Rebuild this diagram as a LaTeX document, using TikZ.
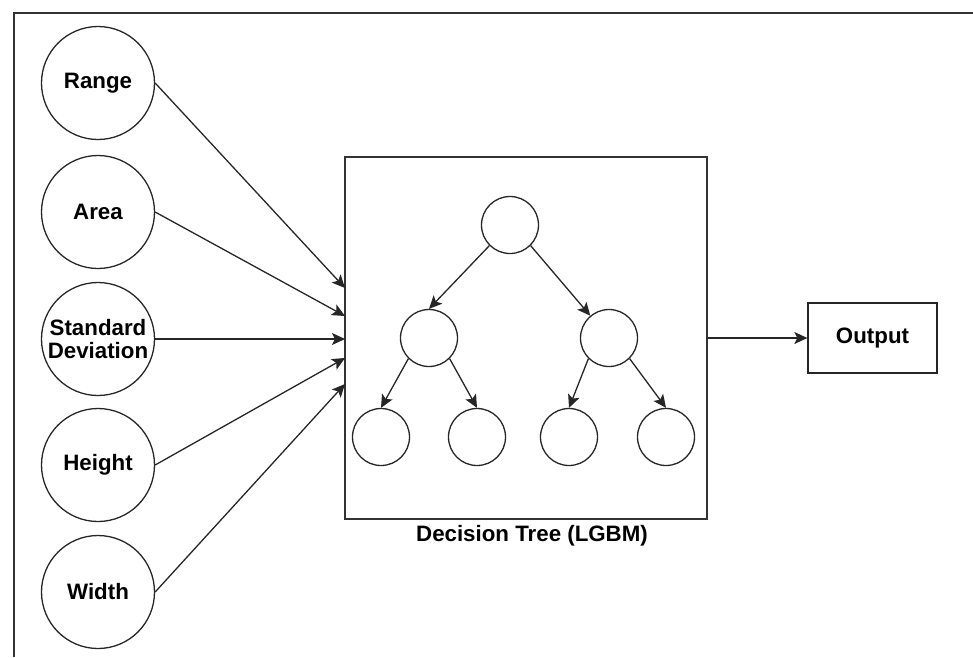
\documentclass[tikz,border=0pt]{standalone}
\usepackage{fontspec}
\setmainfont{Liberation Sans}
\usetikzlibrary{arrows.meta}
\begin{document}
\begin{tikzpicture}[x=1pt,y=-1pt,
  font=\fontsize{22.3}{25}\selectfont\bfseries,
  inputnode/.style={circle,draw=black!85,line width=1.3pt,minimum size=113pt,inner sep=0pt,align=center},
  treenode/.style={circle,draw=black!85,line width=1.3pt,minimum size=57pt,inner sep=0pt},
  link/.style={draw=black!85,line width=1.3pt,-{Stealth[length=13pt,width=12pt,inset=3pt]}}]
  \useasboundingbox (0,0) rectangle (973,657);
  % frame open on the right and at the bottom
  \draw[line width=2.6pt,black!80] (14,657) -- (14,13) -- (973,13);

  % input features
  \node[inputnode] (range) at (98,83)  {Range};
  \node[inputnode] (area)  at (98,212) {Area};
  \node[inputnode] (std)   at (98,339) {Standard\\[-2pt]Deviation};
  \node[inputnode] (height) at (98,465) {Height};
  \node[inputnode] (width) at (98,592) {Width};

  % decision tree box
  \node[draw=black!80,line width=1.3pt,minimum width=362pt,minimum height=362pt,inner sep=0pt] (box) at (526,338) {};
  \node (caption) at (532,536) {Decision Tree (LGBM)};

  \coordinate (in1) at (345,288);
  \coordinate (in2) at (345,316);
  \coordinate (in3) at (345,339);
  \coordinate (in4) at (345,358);
  \coordinate (in5) at (345,384);

  \draw[link] (range.east) -- (in1);
  \draw[link] (area.east) -- (in2);
  \draw[link] (std.east) -- (in3);
  \draw[link] (height.east) -- (in4);
  \draw[link] (width.east) -- (in5);

  % tree
  \node[treenode] (root) at (510,225) {};
  \node[treenode] (l)  at (429,338) {};
  \node[treenode] (r)  at (609,338) {};
  \node[treenode] (ll) at (381,437) {};
  \node[treenode] (lr) at (477,437) {};
  \node[treenode] (rl) at (569,437) {};
  \node[treenode] (rr) at (666,437) {};

  \draw[link] (root.south west) -- (l.north);
  \draw[link] (root.south east) -- (r.130);
  \draw[link] (l.south west) -- (ll.north);
  \draw[link] (l.south east) -- (lr.north);
  \draw[link] (r.south west) -- (rl.north);
  \draw[link] (r.south east) -- (rr.north);

  % output
  \node[draw=black!85,line width=1.3pt,minimum width=129pt,minimum height=70pt,inner sep=0pt] (out) at (872.5,338) {Output};
  \draw[link] (box.east) -- (out.west);
\end{tikzpicture}
\end{document}
